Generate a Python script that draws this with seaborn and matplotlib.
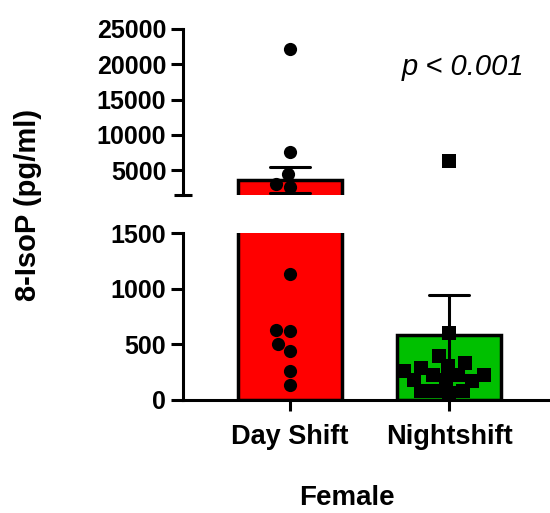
import numpy as np, pandas as pd
import matplotlib
matplotlib.use("Agg")
import matplotlib.pyplot as plt
import seaborn as sns

# values (pg/ml)
GROUPS = ["Day Shift", "Nightshift"]
COLORS = ["#FF0000", "#00C000"]
MARKERS = ["o", "s"]
day_vals = [22200, 7550, 4450, 3000, 2600, 1130, 630, 620, 500, 440, 260, 135]
night_vals = [6270, 600, 395, 330, 305, 285, 260, 225, 225, 225, 180, 180,
              170, 80, 80, 80, 65]
top_ticks = [5000, 10000, 15000, 20000, 25000]
bot_ticks = [0, 500, 1000, 1500]
BREAK = 1500

df = pd.DataFrame({"shift": ["Day Shift"] * len(day_vals) + ["Nightshift"] * len(night_vals),
                   "val": day_vals + night_vals})

sns.set_style("ticks")
plt.rcParams["font.family"] = ["Liberation Sans", "DejaVu Sans"]
plt.rcParams["font.weight"] = "bold"
for k in ["text.color", "axes.labelcolor", "xtick.color", "ytick.color", "axes.edgecolor"]:
    plt.rcParams[k] = "black"
LW = 2.2

fig = plt.figure(figsize=(5.5, 5.13), dpi=100)
ax_top = fig.add_axes([0.3327, 0.6199, 0.6673, 0.3236])
ax_bot = fig.add_axes([0.3327, 0.2203, 0.6673, 0.3255])

for ax, visible in ((ax_top, df["val"] >= BREAK), (ax_bot, df["val"] <= BREAK)):
    sns.barplot(data=df, x="shift", y="val", hue="shift", order=GROUPS, hue_order=GROUPS,
                palette=COLORS, saturation=1, width=0.66, errorbar="se", capsize=0.25,
                edgecolor="black", linewidth=2.5,
                err_kws={"color": "black", "linewidth": LW}, legend=False, ax=ax)
    # swarm only the points that fall inside this segment
    for g, mk in zip(GROUPS, MARKERS):
        sns.swarmplot(data=df[(df["shift"] == g) & visible], x="shift", y="val", order=GROUPS,
                      color="black", marker=mk, size=9.5, zorder=4, ax=ax)
    ax.set_xlim(-0.673, 1.635)
    for s in ax.spines.values():
        s.set_linewidth(LW)
    ax.tick_params(axis="y", which="major", direction="out", length=9, width=LW,
                   labelsize=18, pad=3)
    ax.set_yticks([BREAK], minor=True)
    ax.tick_params(axis="y", which="minor", direction="inout", length=13, width=LW)
    ax.set_ylabel("")
    ax.set_xlabel("")

# upper segment
ax_top.set_ylim(BREAK, 25000)
ax_top.set_yticks(top_ticks)
ax_top.set_xticks([])
sns.despine(ax=ax_top, bottom=True)

# lower segment
ax_bot.set_ylim(0, BREAK)
ax_bot.set_yticks(bot_ticks)
sns.despine(ax=ax_bot)
ax_bot.tick_params(axis="x", direction="out", length=8, width=LW, labelsize=19.5, pad=9)
ax_bot.set_xlabel("Female", fontsize=20, fontweight="bold")
ax_bot.xaxis.set_label_coords(0.447, -0.51)

fig.text(0.051, 0.600, "8-IsoP (pg/ml)", rotation=90, ha="center", va="center",
         fontsize=21, fontweight="bold")
fig.text(0.842, 0.869, "p < 0.001", ha="center", va="center", fontsize=21,
         fontstyle="italic", fontweight="normal")

fig.savefig("out.png", dpi=100)
